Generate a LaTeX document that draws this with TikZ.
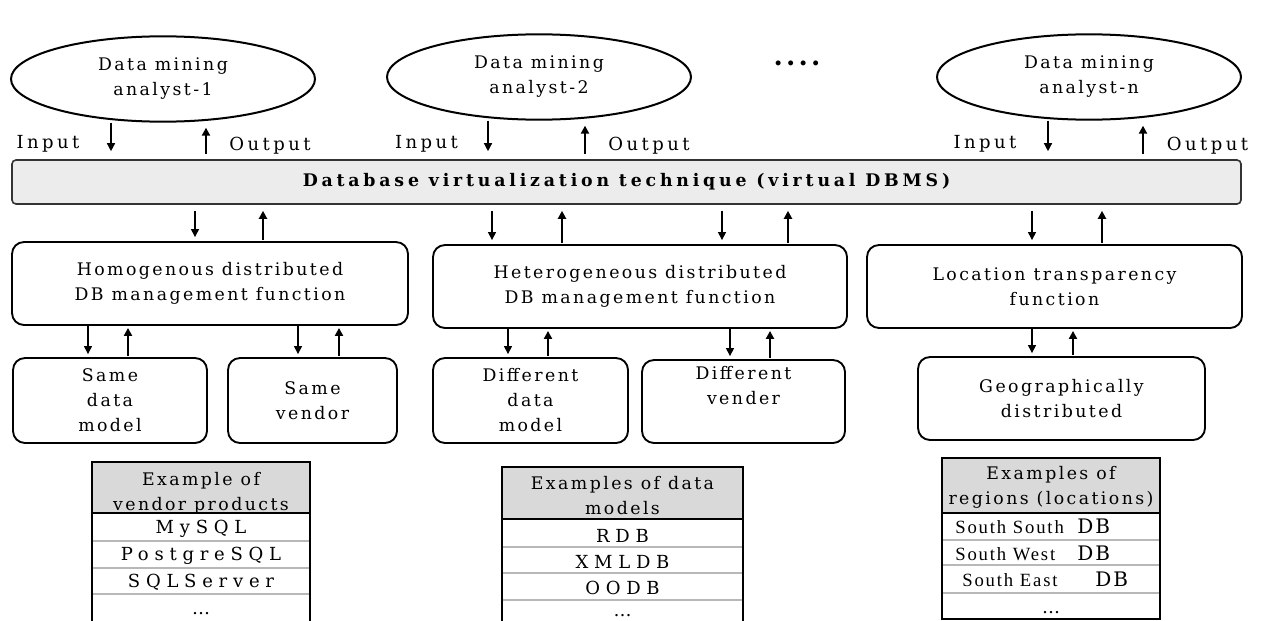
\documentclass[tikz,border=0pt]{standalone}
\usepackage{fontspec}
\setmainfont{DejaVu Serif}
\newfontfamily\boxfont{DejaVu Serif}[LetterSpace=14]
\newfontfamily\labelfont{DejaVu Serif}[LetterSpace=19]
\newfontfamily\barfont{DejaVu Serif}[LetterSpace=22]
\newfontfamily\cellfont{DejaVu Serif}[LetterSpace=32]
\newfontfamily\regfont{Liberation Serif}[LetterSpace=10]
\newfontfamily\dbfont{DejaVu Serif}[LetterSpace=10]
\usepackage{tikz}
\usetikzlibrary{positioning,arrows.meta,shapes.geometric}
\definecolor{bargray}{HTML}{ECECEC}
\definecolor{headgray}{HTML}{D9D9D9}
\definecolor{rulegray}{HTML}{B8B8B8}

\begin{document}
\begin{tikzpicture}[x=0.75pt, y=-0.75pt,
  every node/.style={font={\boxfont\fontsize{13}{18.75}\selectfont}, align=center, inner sep=0pt},
  analyst/.style={ellipse, draw, line width=1.5pt, minimum width=228pt, minimum height=64pt},
  func/.style={rectangle, rounded corners=9pt, draw, line width=1.4pt, minimum height=62.25pt},
  leaf/.style={func, minimum height=63.75pt},
  vdbms/.style={rectangle, rounded corners=3pt, draw=black!80, fill=bargray, line width=1.2pt,
    minimum width=921.75pt, minimum height=33pt, font={\barfont\bfseries\fontsize{13}{17}\selectfont}},
  io/.style={anchor=base, font={\labelfont\fontsize{13.5}{16}\selectfont}},
  dn/.style={line width=1pt, -{Triangle[length=6pt,width=6pt]}},
  up/.style={line width=1.8pt, -{Triangle[length=6pt,width=6pt]}},
  cell/.style={anchor=base, font={\cellfont\fontsize{13.5}{18}\selectfont}},
  reg/.style={anchor=base west, font={\regfont\fontsize{14}{16}\selectfont}},
  regdb/.style={anchor=base west, font={\dbfont\fontsize{15}{16}\selectfont}},
  frame/.style={line width=1.5pt},
  rule/.style={rulegray, line width=1.5pt}
]
\useasboundingbox (0,0) rectangle (1261,621);

% Analysts
\node[analyst] (an1) at (163,79) {Data mining\\analyst-1};
\node[analyst] (an2) at (539,77) {Data mining\\analyst-2};
\node[analyst] (an3) at (1089,77) {Data mining\\analyst-n};
\node[anchor=base, font={\rmfamily\bfseries\fontsize{20}{20}\selectfont}] (more) at (797,65)
  {.\hspace{2.4pt}.\hspace{2.4pt}.\hspace{2.4pt}.};

\foreach \n/\i/\o in {1/48/270, 2/426.5/649, 3/985/1207.5} {
  \node[io] (in\n) at (\i,148) {Input};
  \node[io] (out\n) at (\o,150) {Output};
}

% Virtual DBMS
\node[vdbms] (vdb) at (626.5,182) {Database virtualization technique (virtual DBMS)};

\foreach \a/\d/\u in {an1/111/206, an2/488/585, an3/1048/1143} {
  \draw[dn, shorten >=6pt] (\a.south -| \d,0) -- (vdb.north -| \d,0);
  \draw[up, shorten <=3.75pt, shorten >=3.75pt] (vdb.north -| \u,0) -- (\a.south -| \u,0);
}

% Functions
\node[func, minimum width=297pt] (hom) at (210,283.5) {Homogenous distributed\\DB management function};
\node[func, minimum width=310.5pt] (het) at (640,286.5) {Heterogeneous distributed\\DB management function};
\node[func, minimum width=281.25pt] (loc) at (1054.5,286.5) {Location transparency\\function};

\foreach \f/\d/\u in {hom/195/263, het/492/562, het/722/788, loc/1032/1102} {
  \draw[dn, shorten <=4.5pt, shorten >=3pt] (vdb.south -| \d,0) -- (\f.north -| \d,0);
  \draw[up, shorten <=1pt, shorten >=4.5pt] (\f.north -| \u,0) -- (vdb.south -| \u,0);
}

% Leaves
\node[leaf, minimum width=145.5pt] (samemod) at (110,400.5) {Same\\data\\model};
\node[leaf, minimum width=126.75pt] (samevend) at (312.5,400.5) {Same\\vendor};
\node[leaf, minimum width=146.25pt] (diffmod) at (530.5,400.5) {Different\\data\\model};
\node[leaf, minimum width=152.25pt, minimum height=62.25pt] (diffvend) at (743.5,401.5) {Different\\vender\\[6pt]};
\node[leaf, minimum width=215.25pt, minimum height=62.25pt] (geo) at (1061.5,398.5) {Geographically\\distributed};

\foreach \f/\l/\d/\u in {hom/samemod/88/128, hom/samevend/298/339, het/diffmod/508/548,
                         het/diffvend/730/770, loc/geo/1032/1073} {
  \draw[dn, shorten >=2.25pt] (\f.south -| \d,0) -- (\l.north -| \d,0);
  \draw[up, shorten <=0.75pt, shorten >=1.5pt] (\l.north -| \u,0) -- (\f.south -| \u,0);
}

% Table: vendor products
\fill[headgray] (92,462) rectangle (310,513);
\node (vphead) at (201,493) {Example of\\vendor products};
\fill[white] (92,513) rectangle (310,621);
\foreach \y in {541,568,594} \draw[rule] (92,\y) -- (310,\y);
\draw[frame] (92,621) -- (92,462) -- (310,462) -- (310,621);
\draw[frame] (92,513) -- (310,513);
\foreach \n/\y/\t in {1/533/MySQL, 2/560/PostgreSQL, 3/587/SQLServer, 4/614/{\ldots}}
  \node[cell] (vp\n) at (201,\y) {\t};

% Table: data models
\fill[headgray] (502,467) rectangle (743,519);
\node (dmhead) at (622.5,496) {Examples of data\\models};
\fill[white] (502,519) rectangle (743,621);
\foreach \y in {547,573,600} \draw[rule] (502,\y) -- (743,\y);
\draw[frame] (502,621) -- (502,467) -- (743,467) -- (743,621);
\draw[frame] (502,519) -- (743,519);
\foreach \n/\y/\t in {1/542/RDB, 2/568/XMLDB, 3/594/OODB, 4/616/{\ldots}}
  \node[cell] (dm\n) at (622.5,\y) {\t};

% Table: regions
\fill[headgray] (942,458) rectangle (1160,513);
\node (rghead) at (1051,487) {Examples of\\regions (locations)};
\fill[white] (942,513) rectangle (1160,619);
\foreach \y in {540,565,593} \draw[rule] (942,\y) -- (1160,\y);
\draw[frame] (942,458) rectangle (1160,619);
\draw[frame] (942,513) -- (1160,513);
\foreach \n/\x/\y/\t/\dx in {1/955/533/South South/1077, 2/955/560/South West/1077, 3/962/586/South East/1095} {
  \node[reg] (rg\n) at (\x,\y) {\t};
  \node[regdb] (db\n) at (\dx,\y) {DB};
}
\node[cell] (rg4) at (1051,613) {\ldots};
\end{tikzpicture}
\end{document}
